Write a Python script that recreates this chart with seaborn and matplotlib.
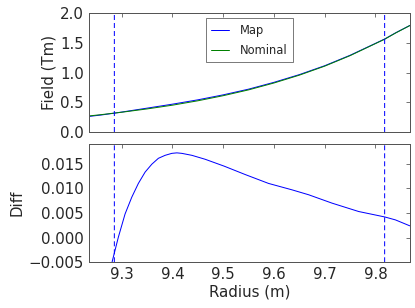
import numpy as np
import pandas as pd
import matplotlib
matplotlib.use("Agg")
import matplotlib.pyplot as plt
import seaborn as sns

# ---- data ----
radius_field = [9.235, 9.26, 9.285, 9.30, 9.35, 9.40, 9.45, 9.50, 9.55, 9.60,
                9.65, 9.70, 9.75, 9.80, 9.818, 9.84, 9.868]
field_nominal = [0.270, 0.293, 0.318, 0.333, 0.389, 0.452, 0.526, 0.612, 0.710, 0.826,
                 0.958, 1.110, 1.287, 1.490, 1.563, 1.670, 1.795]
field_map = [0.262, 0.287, 0.317, 0.336, 0.402, 0.469, 0.542, 0.626, 0.722, 0.837,
             0.967, 1.117, 1.293, 1.494, 1.567, 1.673, 1.797]

radius_diff = [9.276, 9.2817, 9.2935, 9.3067, 9.3199, 9.3329, 9.3462, 9.3594, 9.3724,
               9.3856, 9.3988, 9.4087, 9.4185, 9.4383, 9.4645, 9.502, 9.5434, 9.5893,
               9.6355, 9.6683, 9.7144, 9.7669, 9.8182, 9.8393, 9.8675]
diff = [-0.0074, -0.0047, 0.0001, 0.0048, 0.0082, 0.0110, 0.0133, 0.0149, 0.0161,
        0.0167, 0.0171, 0.0172, 0.0171, 0.0167, 0.0159, 0.0145, 0.0128, 0.0110,
        0.0097, 0.0087, 0.0070, 0.0053, 0.0042, 0.0036, 0.0024]

vlines = [9.2856, 9.818]
xticks = [9.3, 9.4, 9.5, 9.6, 9.7, 9.8]
yticks_top = [0.0, 0.5, 1.0, 1.5, 2.0]
yticks_bottom = [-0.005, 0.000, 0.005, 0.010, 0.015]

sns.set_style("white")
plt.rcParams['font.family'] = ['DejaVu Sans']

df_top = pd.DataFrame({
    "Radius": radius_field * 2,
    "Field": field_map + field_nominal,
    "Series": ["Map"] * len(radius_field) + ["Nominal"] * len(radius_field),
})
df_bot = pd.DataFrame({"Radius": radius_diff, "Diff": diff})

FS = 15
DPI = 72
fig = plt.figure(figsize=(415 / DPI, 308 / DPI), dpi=DPI)
ax1 = fig.add_axes([0.2145, 0.5714, 0.988 - 0.2145, 0.9568 - 0.5714])
ax2 = fig.add_axes([0.2145, 0.1484, 0.988 - 0.2145, 0.5325 - 0.1484])

sns.lineplot(data=df_top, x="Radius", y="Field", hue="Series",
             palette={"Map": "#0000ff", "Nominal": "#008000"},
             estimator=None, sort=False, linewidth=1.0, ax=ax1, legend=False)
sns.lineplot(data=df_bot, x="Radius", y="Diff", color="#0000ff",
             estimator=None, sort=False, linewidth=1.0, ax=ax2)

for ax in (ax1, ax2):
    for v in vlines:
        ax.axvline(v, color="#0000ff", linestyle=(0, (5, 3)), linewidth=1.0,
                   snap=False)
    ax.set_xlim(9.2357, 9.868)
    ax.set_xticks(xticks)
    ax.tick_params(direction="in", top=True, right=True, length=4,
                   width=0.8, color="#555555", labelsize=FS, pad=5)
    for s in ax.spines.values():
        s.set_color("#555555")
        s.set_linewidth(1.0)

ax1.set_ylim(0, 2.0)
ax1.set_yticks(yticks_top)
ax1.set_yticklabels([f"{v:.1f}" for v in yticks_top])
ax1.set_xticklabels([])
ax1.set_xlabel("")
ax1.set_ylabel("Field (Tm)", fontsize=FS, labelpad=4)

ax2.set_ylim(-0.005, 0.019)
ax2.set_yticks(yticks_bottom)
ax2.set_yticklabels(["\u22120.005", "0.000", "0.005", "0.010", "0.015"])
ax2.set_xticklabels([f"{v:.1f}" for v in xticks])
ax2.set_xlabel("Radius (m)", fontsize=FS, labelpad=2)
ax2.set_ylabel("Diff", fontsize=FS, labelpad=4)

handles = [ax1.lines[0], ax1.lines[1]]
leg = ax1.legend(handles, ["Map", "Nominal"], loc="upper center", fontsize=11.5,
                 frameon=True, fancybox=False, handlelength=1.5,
                 handletextpad=1.0, borderaxespad=0.45, labelspacing=0.55,
                 borderpad=0.5)
leg.get_frame().set_edgecolor("#333333")
leg.get_frame().set_linewidth(0.8)

fig.savefig("out.png", dpi=DPI)
